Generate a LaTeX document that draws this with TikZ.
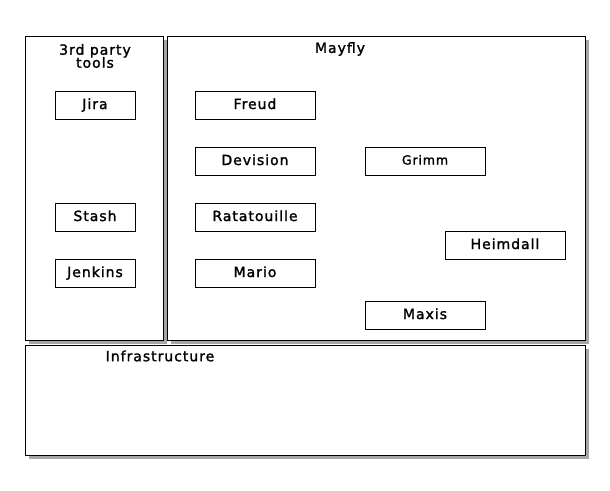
\documentclass[tikz,border=0pt]{standalone}
\usepackage{fontspec}
\setmainfont{DejaVu Sans}[LetterSpace=7, FakeBold=1.6]
\usepackage{tikz}
\usetikzlibrary{positioning, shadows}

\begin{document}
\begin{tikzpicture}[x=1pt, y=-1pt,
        panel/.style={draw, line width=1pt, fill=white, inner sep=0pt,
            drop shadow={shadow xshift=3.5pt, shadow yshift=-3.5pt, fill=black, opacity=0.35}},
        tool/.style={draw, line width=0.9pt, fill=white, minimum height=28pt, inner sep=0pt,
            text height=10pt, text depth=2pt, font=\fontsize{14}{15}\selectfont},
        small/.style={tool, minimum width=80pt},
        wide/.style={tool, minimum width=120pt},
        heading/.style={font=\fontsize{14}{15}\selectfont, align=center, inner sep=0pt}]
    \useasboundingbox (0,0) rectangle (610,490);

    % --- Containers ---
    \node[panel, minimum width=138pt, minimum height=304pt] (thirdparty) at (94,188) {};
    \node[panel, minimum width=418pt, minimum height=304pt] (mayfly) at (376,188) {};
    \node[panel, minimum width=560pt, minimum height=110pt] (infra) at (305,400) {};

    \node[heading] (thirdpartytitle) at (95,56) {3rd party\\[-2pt]tools};
    \node[heading] (mayflytitle) at (340,49) {Mayfly};
    \node[heading] (infratitle) at (160,356) {Infrastructure};

    % --- 3rd party tools ---
    \node[small] (jira) at (95,105) {Jira};
    \node[small] (stash) at (95,217) {Stash};
    \node[small] (jenkins) at (95,273) {Jenkins};

    % --- Mayfly components ---
    \node[wide] (freud) at (255,105) {Freud};
    \node[wide] (devision) at (255,161) {Devision};
    \node[wide] (ratatouille) at (255,217) {Ratatouille};
    \node[wide] (mario) at (255,273) {Mario};
    \node[wide, font=\fontsize{12.5}{13}\selectfont, text height=9pt] (grimm) at (425,161) {Grimm};
    \node[wide] (heimdall) at (505,245) {Heimdall};
    \node[wide] (maxis) at (425,315) {Maxis};
\end{tikzpicture}
\end{document}
